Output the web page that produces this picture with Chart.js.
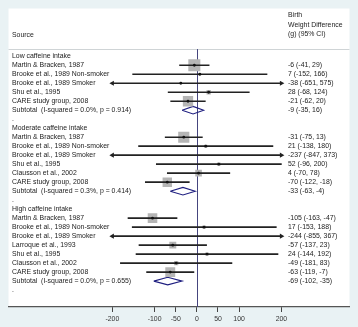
<!DOCTYPE html>
<html>
<head>
<meta charset="utf-8">
<script src="https://cdn.jsdelivr.net/npm/chart.js@4"></script>
<style>
  html, body { margin: 0; padding: 0; background: #e9f2f4; }
  #wrap { width: 358px; height: 327px; }
</style>
</head>
<body>
<div id="wrap"><canvas id="forest"></canvas></div>
<script>
// subgroups and their heterogeneity stats
const groupNames = ["Low caffeine intake", "Moderate caffeine intake", "High caffeine intake"];
const hetStats = [
  "(I-squared = 0.0%, p = 0.914)",
  "(I-squared = 0.3%, p = 0.414)",
  "(I-squared = 0.0%, p = 0.655)",
];

const lowStudies = ["Martin & Bracken, 1987", "Brooke et al., 1989 Non-smoker", "Brooke et al., 1989 Smoker", "Shu et al., 1995", "CARE study group, 2008"];
const lowEst = [-6, 7, -38, 28, -21];
const lowLo = [-41, -152, -651, -68, -62];
const lowHi = [29, 166, 575, 124, 20];
const lowWeight = [52.1, 2.5, 0.2, 6.9, 38.1];

const modStudies = ["Martin & Bracken, 1987", "Brooke et al., 1989 Non-smoker", "Brooke et al., 1989 Smoker", "Shu et al., 1995", "Clausson et al., 2002", "CARE study group, 2008"];
const modEst = [-31, 21, -237, 52, 4, -70];
const modLo = [-75, -138, -847, -96, -70, -122];
const modHi = [13, 180, 373, 200, 78, -18];
const modWeight = [44.6, 3.4, 0.2, 3.9, 15.8, 32.0];

const highStudies = ["Martin & Bracken, 1987", "Brooke et al., 1989 Non-smoker", "Brooke et al., 1989 Smoker", "Larroque et al., 1993", "Shu et al., 1995", "Clausson et al., 2002", "CARE study group, 2008"];
const highEst = [-105, 17, -244, -57, 24, -49, -63];
const highLo = [-163, -153, -855, -137, -144, -181, -119];
const highHi = [-47, 188, 367, 23, 192, 83, -7];
const highWeight = [33.0, 3.8, 0.3, 17.4, 3.9, 6.4, 35.3];

const subEst = [-9, -33, -69];
const subLo = [-35, -63, -102];
const subHi = [16, -4, -35];

const xTicks = [-200, -100, -50, 0, 50, 100, 200];

const FONT = "'Liberation Sans', Arial, sans-serif";
const LIMIT = 200;
const clip = (v) => Math.max(-LIMIT, Math.min(LIMIT, v));

const groupData = [
  { studies: lowStudies, est: lowEst, lo: lowLo, hi: lowHi, w: lowWeight },
  { studies: modStudies, est: modEst, lo: modLo, hi: modHi, w: modWeight },
  { studies: highStudies, est: highEst, lo: highLo, hi: highHi, w: highWeight },
];

// one row per line of the table, top to bottom
const rows = [];
groupNames.forEach((name, g) => {
  const d = groupData[g];
  rows.push({ label: name });
  d.studies.forEach((s, i) => {
    rows.push({ label: s, est: d.est[i], lo: d.lo[i], hi: d.hi[i], w: d.w[i], kind: "study" });
  });
  rows.push({ label: "Subtotal  " + hetStats[g], est: subEst[g], lo: subLo[g], hi: subHi[g], kind: "sub" });
  rows.push({ label: "." });
});
rows.forEach((r, i) => (r.y = i));

const studyRows = rows.filter((r) => r.kind === "study");
const subRows = rows.filter((r) => r.kind === "sub");
const shown = studyRows.filter((r) => Math.abs(r.est) <= LIMIT);

const ciData = studyRows.map((r) => ({ x: [clip(r.lo), clip(r.hi)], y: r.y }));
const arrowData = [];
const arrowRot = [];
studyRows.forEach((r) => {
  if (r.lo < -LIMIT) { arrowData.push({ x: -LIMIT, y: r.y }); arrowRot.push(-90); }
  if (r.hi > LIMIT) { arrowData.push({ x: LIMIT, y: r.y }); arrowRot.push(90); }
});
const boxData = shown.map((r) => ({ x: r.est, y: r.y }));
const boxRadius = shown.map((r) => 1.18 * Math.sqrt(r.w));
const diamondData = [];
subRows.forEach((r) => {
  diamondData.push(
    { x: r.lo, y: r.y }, { x: r.est, y: r.y - 0.42 }, { x: r.hi, y: r.y },
    { x: r.est, y: r.y + 0.42 }, { x: r.lo, y: r.y }, { x: null, y: null }
  );
});

const forestDecor = {
  id: "forestDecor",
  beforeDraw(chart) {
    const { ctx, chartArea: a, scales: { y } } = chart;
    ctx.save();
    ctx.fillStyle = "#e9f2f4";
    ctx.fillRect(0, 0, chart.width, chart.height);
    ctx.fillStyle = "#ffffff";
    ctx.fillRect(a.left, a.top, a.right - a.left, a.bottom - a.top);
    ctx.strokeStyle = "#cfd4d6";
    ctx.lineWidth = 1;
    const hy = Math.round(y.getPixelForValue(-0.8)) + 0.5;
    ctx.beginPath();
    ctx.moveTo(a.left, hy);
    ctx.lineTo(a.right, hy);
    ctx.stroke();
    ctx.restore();
  },
  beforeDatasetsDraw(chart) {
    const { ctx, chartArea: a, scales: { x, y } } = chart;
    const x0 = Math.round(x.getPixelForValue(0)) + 0.5;
    ctx.save();
    ctx.strokeStyle = "#45457e";
    ctx.lineWidth = 1;
    ctx.beginPath();
    ctx.moveTo(x0, y.getPixelForValue(-0.8));
    ctx.lineTo(x0, a.bottom);
    ctx.stroke();
    ctx.restore();
  },
  afterDraw(chart) {
    const { ctx, scales: { y } } = chart;
    ctx.save();
    ctx.font = "6.9px " + FONT;
    ctx.fillStyle = "#222";
    ctx.textBaseline = "middle";
    ctx.textAlign = "left";
    ctx.fillText("Source", 12, 35);
    ["Birth", "Weight Difference", "(g) (95% CI)"].forEach((t, i) => ctx.fillText(t, 288, 15.5 + i * 9.4));
    rows.forEach((r) => {
      const py = y.getPixelForValue(r.y);
      ctx.fillText(r.label, 12, py);
      if (r.kind) ctx.fillText(`${r.est} (${r.lo}, ${r.hi})`, 288, py);
    });
    ctx.restore();
  },
};

new Chart(document.getElementById("forest"), {
  type: "scatter",
  data: {
    datasets: [
      { type: "scatter", data: boxData, pointRadius: 1.4, pointBackgroundColor: "#111", pointBorderWidth: 0 },
      { type: "bar", indexAxis: "y", data: ciData, backgroundColor: "#222", barThickness: 1 },
      { type: "scatter", data: arrowData, pointStyle: "triangle", pointRotation: arrowRot, pointRadius: 3, pointBackgroundColor: "#222", pointBorderWidth: 0 },
      { type: "scatter", data: boxData, pointStyle: "rect", pointRadius: boxRadius, pointBackgroundColor: "#b5b5b5", pointBorderWidth: 0 },
      { type: "line", data: diamondData, borderColor: "#1f1f80", borderWidth: 1.1, borderJoinStyle: "miter", pointRadius: 0, fill: false, spanGaps: false, tension: 0 },
    ],
  },
  options: {
    responsive: true,
    maintainAspectRatio: false,
    animation: false,
    events: [],
    layout: { padding: { left: 5, right: 6, top: 5, bottom: 0 } },
    plugins: { legend: { display: false }, tooltip: { enabled: false } },
    scales: {
      x: {
        type: "linear",
        offset: false,
        min: -445.8,
        max: 361.2,
        afterBuildTicks: (s) => { s.ticks = xTicks.map((v) => ({ value: v })); },
        afterFit: (s) => { s.height = 20; },
        grid: { drawOnChartArea: false, offset: false, tickLength: 5, tickColor: "#444" },
        border: { color: "#555", width: 1.2 },
        ticks: { font: { family: FONT, size: 6.9 }, color: "#333", padding: 3, maxRotation: 0, autoSkip: false, callback: (v) => String(v) },
      },
      y: { type: "linear", offset: false, grid: { offset: false }, reverse: true, min: -5.31, max: 27.88, display: false },
    },
  },
  plugins: [forestDecor],
});
</script>
</body>
</html>
